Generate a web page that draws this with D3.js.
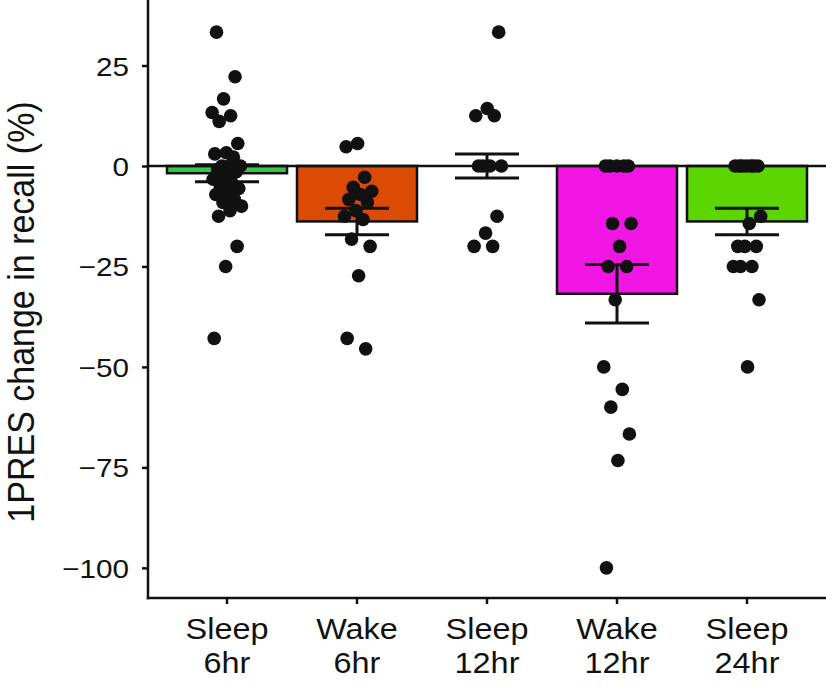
<!DOCTYPE html>
<html><head><meta charset="utf-8">
<script src="https://cdn.jsdelivr.net/npm/d3@7"></script>
<style>body{margin:0;background:#fff}svg{display:block}text{font-family:"Liberation Sans",Arial,Helvetica,sans-serif;fill:#111}</style>
</head><body><svg id="chart" width="826" height="690"></svg>
<script>
// ---- data ----
const categories = ["Sleep 6hr", "Wake 6hr", "Sleep 12hr", "Wake 12hr", "Sleep 24hr"];
const barColors = ["#35c94a", "#dc4b04", "#3a5fcd", "#f216e4", "#5bd600"];
const means = [-1.8, -13.8, 0.0, -31.8, -13.8];
const sems = [2.1, 3.3, 3.0, 7.3, 3.3];
const sleep6hr = [33.3, 22.2, 16.7, 13.3, 12.5, 11.1, 5.6, 3.3, 3.0, 2.2, 0, 0, 0, -0.9, -1.5, -2.5, -3.3, -4.2, -5.0, -5.6, -6.7, -7.1, -8.3, -9.1, -10.0, -11.1, -12.5, -20.0, -25.0, -42.9];
const wake6hr = [5.6, 4.8, -2.8, -5.3, -6.3, -7.1, -8.3, -9.1, -11.1, -12.5, -13.3, -18.2, -20.0, -27.3, -42.9, -45.5];
const sleep12hr = [33.3, 14.3, 12.5, 12.5, 0, 0, 0, 0, -12.5, -16.7, -20.0, -20.0];
const wake12hr = [0, 0, 0, 0, 0, -14.3, -14.3, -20.0, -25.0, -25.0, -33.3, -50.0, -55.6, -60.0, -66.7, -73.3, -100.0];
const sleep24hr = [0, 0, 0, 0, 0, 0, 0, -12.5, -14.3, -20.0, -20.0, -20.0, -25.0, -25.0, -25.0, -33.3, -50.0];
const pointSeries = [sleep6hr, wake6hr, sleep12hr, wake12hr, sleep24hr];
const yTicks = [25, 0, -25, -50, -75, -100];
const yTitle = "1PRES change in recall (%)";

// ---- layout ----
const svg = d3.select("#chart");
const axisLeftX = 148, axisBottomY = 598, plotRight = 826, plotTop = 0;
const inner = 1 - 120 / 130;
const x = d3.scaleBand().domain(categories).range([162, 812]).paddingInner(inner).paddingOuter(inner / 2);
const y = d3.scaleLinear().domain([-107.5, 41.3]).range([axisBottomY, plotTop]);
const color = d3.scaleOrdinal().domain(categories).range(barColors);
const font = '"Liberation Sans",Arial,Helvetica,sans-serif';
const stretch = 1.12;

const summary = categories.map((c, i) => ({cat: c, mean: means[i], se: sems[i]}));

// bars
svg.append("g").selectAll("rect").data(summary).join("rect")
  .attr("x", d => x(d.cat))
  .attr("width", x.bandwidth())
  .attr("y", d => y(Math.max(0, d.mean)))
  .attr("height", d => Math.abs(y(d.mean) - y(0)))
  .attr("fill", d => color(d.cat))
  .attr("stroke", "#111").attr("stroke-width", 2.5);

// zero line
svg.append("line").attr("x1", axisLeftX).attr("x2", plotRight)
  .attr("y1", y(0)).attr("y2", y(0)).attr("stroke", "#111").attr("stroke-width", 2.5);

// error bars
const capHalf = 32;
const eb = svg.append("g").attr("stroke", "#111").attr("stroke-width", 3);
summary.forEach(d => {
  const cx = x(d.cat) + x.bandwidth() / 2;
  eb.append("line").attr("x1", cx).attr("x2", cx).attr("y1", y(d.mean + d.se)).attr("y2", y(d.mean - d.se));
  eb.append("line").attr("x1", cx - capHalf).attr("x2", cx + capHalf).attr("y1", y(d.mean + d.se)).attr("y2", y(d.mean + d.se));
  eb.append("line").attr("x1", cx - capHalf).attr("x2", cx + capHalf).attr("y1", y(d.mean - d.se)).attr("y2", y(d.mean - d.se));
});

// points (deterministic golden-ratio horizontal spread)
const pts = [];
pointSeries.forEach((vals, gi) => {
  vals.forEach((v, k) => {
    const frac = ((k * 0.6180339887 + gi * 0.37 + 0.15) % 1) - 0.5;
    pts.push({cat: categories[gi], v, off: frac * 2 * 0.125 * x.bandwidth()});
  });
});
svg.append("g").selectAll("circle").data(pts).join("circle")
  .attr("cx", d => x(d.cat) + x.bandwidth() / 2 + d.off)
  .attr("cy", d => y(d.v))
  .attr("r", 6.8)
  .attr("fill", "#111");

// axes lines
svg.append("line").attr("x1", axisLeftX).attr("x2", axisLeftX).attr("y1", plotTop).attr("y2", axisBottomY + 1.25)
  .attr("stroke", "#111").attr("stroke-width", 2.5);
svg.append("line").attr("x1", axisLeftX - 1.25).attr("x2", plotRight).attr("y1", axisBottomY).attr("y2", axisBottomY)
  .attr("stroke", "#111").attr("stroke-width", 2.5);

// y axis ticks
const yAxis = svg.append("g").attr("transform", `translate(${axisLeftX},0)`)
  .call(d3.axisLeft(y).tickValues(yTicks).tickFormat("").tickSize(6).tickSizeOuter(0));
yAxis.select(".domain").remove();
yAxis.selectAll(".tick line").attr("stroke", "#111").attr("stroke-width", 2.5);
const fmt = d3.format("d");
yAxis.selectAll(".tick").append("text")
  .attr("transform", `translate(-19,0) scale(${stretch},1)`)
  .attr("text-anchor", "end").attr("dy", "0.36em")
  .attr("font-size", 26.5).attr("font-family", font).attr("fill", "#111")
  .text(d => fmt(d));

// x axis ticks and labels
const xAxis = svg.append("g").attr("transform", `translate(0,${axisBottomY})`)
  .call(d3.axisBottom(x).tickSize(6).tickSizeOuter(0).tickFormat(""));
xAxis.select(".domain").remove();
xAxis.selectAll(".tick line").attr("stroke", "#111").attr("stroke-width", 2.5);
xAxis.selectAll(".tick").each(function(d) {
  const parts = d.split(" ");
  const t = d3.select(this).append("text").attr("text-anchor", "middle")
    .attr("transform", `scale(1.08,1)`)
    .attr("font-size", 30).attr("font-family", font).attr("fill", "#111");
  t.append("tspan").attr("x", 0).attr("y", 41).text(parts[0]);
  t.append("tspan").attr("x", 0).attr("y", 75).text(parts[1]);
});

// y title
svg.append("text")
  .attr("transform", `translate(34,312) scale(1.1,1) rotate(-90)`)
  .attr("text-anchor", "middle").attr("font-size", 34).attr("font-family", font).attr("fill", "#111")
  .text(yTitle);
</script>
</body></html>
